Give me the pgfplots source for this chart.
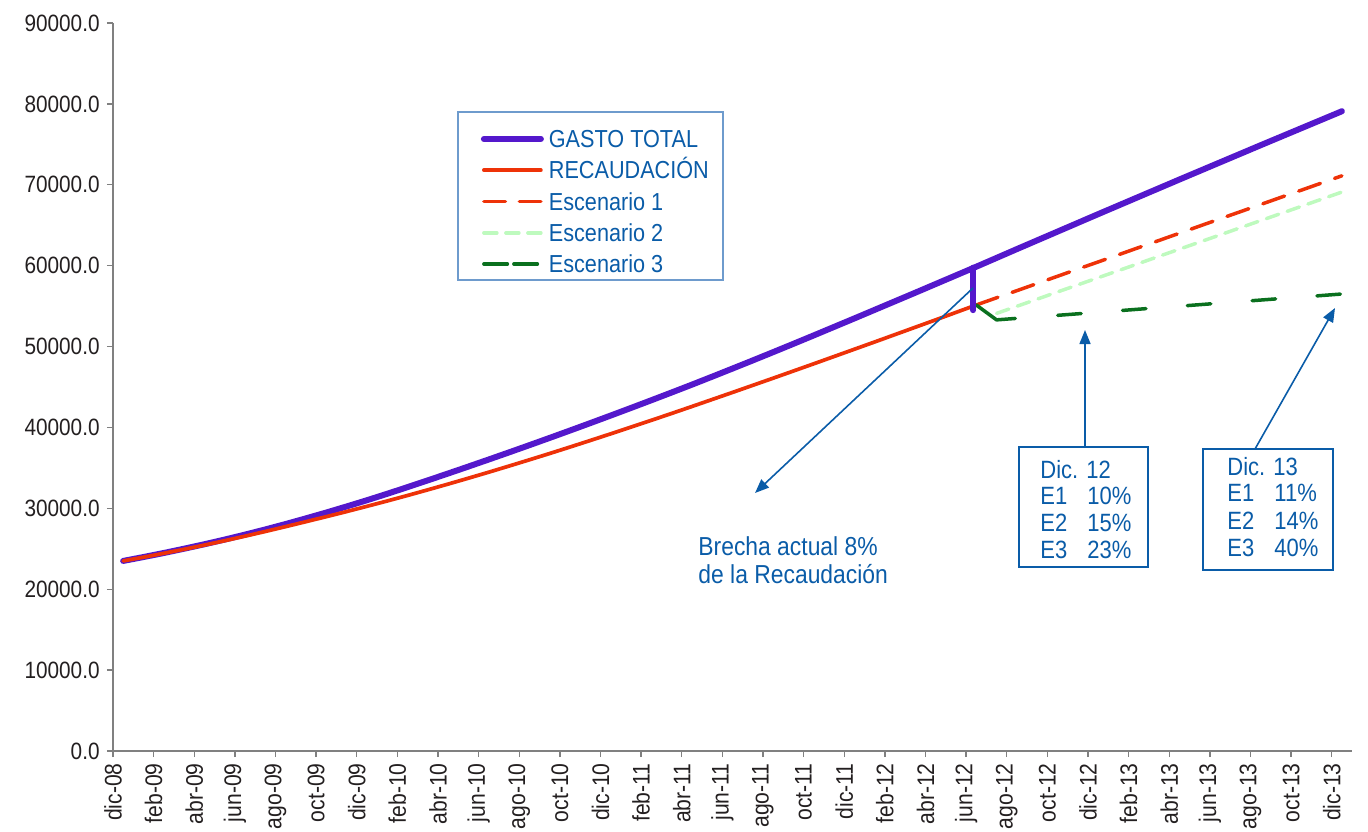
\documentclass[border=0pt]{standalone}
\usepackage{fontspec}
\setmainfont{Liberation Sans}[FakeStretch=0.88]
\usepackage{pgfplots}
\usepackage{pgfplotstable}
\pgfplotsset{compat=1.18}
\usetikzlibrary{arrows.meta}
\definecolor{gastoc}{RGB}{84,24,204}
\definecolor{recc}{RGB}{238,50,8}
\definecolor{lgreen}{RGB}{190,250,190}
\definecolor{dgreen}{RGB}{10,112,30}
\definecolor{tblue}{RGB}{10,92,168}
\definecolor{lborder}{RGB}{110,155,205}
\definecolor{tickc}{RGB}{35,31,32}
\definecolor{axc}{RGB}{128,128,128}

\pgfplotstableread{
x y
0.5 23500
1.5 23980
2.5 24480
3.5 25010
4.5 25560
5.5 26140
6.5 26750
7.5 27390
8.5 28060
9.5 28760
10.5 29480
11.5 30230
12.5 31000
13.5 31800
14.5 32620
15.5 33460
16.5 34310
17.5 35170
18.5 36040
19.5 36920
20.5 37810
21.5 38710
22.5 39620
23.5 40540
24.5 41470
25.5 42410
26.5 43360
27.5 44320
28.5 45290
29.5 46280
30.5 47280
31.5 48290
32.5 49310
33.5 50340
34.5 51380
35.5 52430
36.5 53480
37.5 54540
38.5 55600
39.5 56660
40.5 57730
41.5 58800
42.5 59870
43.5 60960
44.5 62050
45.5 63130
46.5 64210
47.5 65290
48.5 66370
49.5 67440
50.5 68510
51.5 69580
52.5 70650
53.5 71710
54.5 72770
55.5 73830
56.5 74890
57.5 75940
58.5 76990
59.5 78040
60.5 79090
}\gasto

\pgfplotstableread{
x y
0.5 23500
1.5 23960
2.5 24440
3.5 24940
4.5 25460
5.5 26000
6.5 26560
7.5 27140
8.5 27740
9.5 28350
10.5 28970
11.5 29600
12.5 30250
13.5 30910
14.5 31590
15.5 32290
16.5 33000
17.5 33730
18.5 34470
19.5 35230
20.5 36000
21.5 36780
22.5 37580
23.5 38390
24.5 39210
25.5 40040
26.5 40880
27.5 41730
28.5 42590
29.5 43460
30.5 44330
31.5 45210
32.5 46090
33.5 46980
34.5 47870
35.5 48770
36.5 49670
37.5 50570
38.5 51480
39.5 52390
40.5 53300
41.5 54220
42.5 55140
}\recaud

\pgfplotstableread{
x y
42.5 55140
43.5 56030
44.5 56910
45.5 57800
46.5 58690
47.5 59580
48.5 60460
49.5 61350
50.5 62240
51.5 63120
52.5 64010
53.5 64900
54.5 65790
55.5 66670
56.5 67560
57.5 68450
58.5 69330
59.5 70220
60.5 71110
}\escA

\pgfplotstableread{
x y
43.5 54100
44.5 54980
45.5 55860
46.5 56750
47.5 57630
48.5 58510
49.5 59390
50.5 60270
51.5 61160
52.5 62040
53.5 62920
54.5 63800
55.5 64690
56.5 65570
57.5 66450
58.5 67330
59.5 68220
60.5 69100
}\escB

\pgfplotstableread{
x y
42.5 55140
43.5 53300
44.5 53490
45.5 53680
46.5 53860
47.5 54050
48.5 54240
49.5 54430
50.5 54620
51.5 54810
52.5 54990
53.5 55180
54.5 55370
55.5 55560
56.5 55750
57.5 55940
58.5 56120
59.5 56310
60.5 56500
}\escC

\begin{document}
\begin{tikzpicture}[x=1pt,y=1pt]
\begin{axis}[
  at={(0pt,0pt)}, anchor=south west,
  width=619.5pt, height=364pt, scale only axis,
  xmin=0, xmax=61, ymin=0, ymax=90000,
  axis x line*=bottom, axis y line*=left,
  axis line style={draw=axc, line width=0.8pt},
  tick align=outside, major tick length=3pt,
  tick style={draw=axc, line width=0.7pt},
  xtick={0,2,...,60},
  xticklabels={dic-08,feb-09,abr-09,jun-09,ago-09,oct-09,dic-09,feb-10,abr-10,jun-10,ago-10,oct-10,dic-10,feb-11,abr-11,jun-11,ago-11,oct-11,dic-11,feb-12,abr-12,jun-12,ago-12,oct-12,dic-12,feb-13,abr-13,jun-13,ago-13,oct-13,dic-13},
  x tick label style={rotate=90, anchor=east, font=\fontsize{12}{14}\selectfont, text=tickc, inner sep=3pt},
  ytick={0,10000,...,90000},
  scaled y ticks=false,
  y tick label style={font=\fontsize{11.8}{14}\selectfont, text=tickc, inner sep=3.5pt,
    /pgf/number format/fixed, /pgf/number format/fixed zerofill,
    /pgf/number format/precision=1, /pgf/number format/1000 sep={},
    /pgf/number format/assume math mode=true},
  clip=false,
  legend cell align=left,
  legend style={at={(0.27764,0.8791)}, anchor=north west,
    draw=lborder, line width=0.9pt,
    font=\fontsize{12.3}{14}\selectfont, text=tblue,
    inner xsep=7pt, inner ysep=3.65pt,
    row sep=1.55pt, column sep=2.5pt,
    cells={anchor=base west},
    nodes={inner sep=0pt, text height=14.1pt, text depth=0pt}},
  legend image code/.code={\path (-4.5pt,4.25pt); \draw[#1] (0pt,4.25pt) -- (28.5pt,4.25pt);},
]
\addplot[gastoc, line width=3pt, line cap=round, line join=round] table[x=x,y=y] {\gasto};
\addlegendentry{GASTO TOTAL}
\addplot[recc, line width=1.85pt, line cap=round, line join=round] table[x=x,y=y] {\recaud};
\addlegendentry{RECAUDACIÓN}
\addplot[recc, line width=1.75pt, line cap=round, dash pattern=on 11.5pt off 7.5pt,
  legend image post style={dash pattern=on 10.75pt off 7pt}] table[x=x,y=y] {\escA};
\addlegendentry{Escenario 1}
\addplot[lgreen, line width=1.75pt, line cap=round, dash pattern=on 6.5pt off 4.5pt] table[x=x,y=y] {\escB};
\addlegendentry{Escenario 2}
\addplot[dgreen, line width=1.75pt, line cap=round, line join=round,
  dash pattern=on 22pt off 21.25pt on 11.75pt off 20.75pt on 11.75pt off 20.75pt on 11.75pt off 20.75pt on 11.75pt off 20.75pt on 11.75pt off 20.75pt,
  legend image post style={dash pattern=on 11.75pt off 3.25pt}] table[x=x,y=y] {\escC};
\addlegendentry{Escenario 3}
\addplot[gastoc, line width=3pt, line cap=round, forget plot] coordinates {(42.35,59750) (42.35,54500)};
\end{axis}

% annotations
\begin{scope}[tblue, font=\fontsize{12.5}{14}\selectfont]
\draw[line width=0.8pt, -{Triangle[length=7pt,width=5.5pt]}] (430,231.5) -- (321,129);
\draw[line width=0.8pt, -{Triangle[length=7pt,width=5.5pt]}] (486,152) -- (486,210.5);
\draw[line width=0.8pt, -{Triangle[length=7pt,width=5.5pt]}] (571,151) -- (611,221.5);
\draw[line width=0.9pt, fill=white] (453,152) rectangle (517.5,92);
\draw[line width=0.9pt, fill=white] (545,151) rectangle (610,90.5);
\node[anchor=base west, inner sep=0pt, text=tblue] at (463.5,136.35) {Dic. 12};
\node[anchor=base west, inner sep=0pt, text=tblue] at (463.5,123.5) {E1};
\node[anchor=base west, inner sep=0pt, text=tblue] at (463.5,109.65) {E2};
\node[anchor=base west, inner sep=0pt, text=tblue] at (463.5,96.35) {E3};
\node[anchor=base west, inner sep=0pt, text=tblue] at (487,123.5) {10\%};
\node[anchor=base west, inner sep=0pt, text=tblue] at (487,109.65) {15\%};
\node[anchor=base west, inner sep=0pt, text=tblue] at (487,96.35) {23\%};
\node[anchor=base west, inner sep=0pt, text=tblue] at (557,138) {Dic. 13};
\node[anchor=base west, inner sep=0pt, text=tblue] at (557,124.65) {E1};
\node[anchor=base west, inner sep=0pt, text=tblue] at (557,110.85) {E2};
\node[anchor=base west, inner sep=0pt, text=tblue] at (557,97.5) {E3};
\node[anchor=base west, inner sep=0pt, text=tblue] at (580.5,124.65) {11\%};
\node[anchor=base west, inner sep=0pt, text=tblue] at (580.5,110.85) {14\%};
\node[anchor=base west, inner sep=0pt, text=tblue] at (580.5,97.5) {40\%};
\node[anchor=base west, inner sep=0pt, text=tblue, font=\fontsize{13}{15}\selectfont] at (292.5,98) {Brecha actual 8\%};
\node[anchor=base west, inner sep=0pt, text=tblue, font=\fontsize{13}{15}\selectfont] at (292.5,83.8) {de la Recaudación};
\end{scope}
\pgfresetboundingbox
\useasboundingbox (-56.5,-40) rectangle (627.5,375.5);
\end{tikzpicture}
\end{document}
